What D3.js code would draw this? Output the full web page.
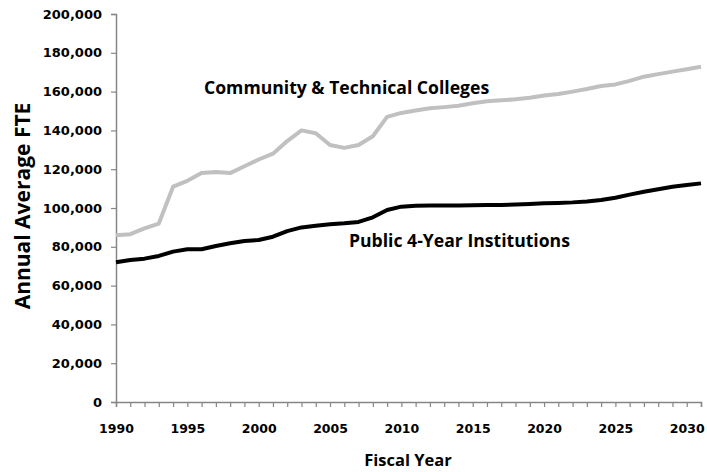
<!DOCTYPE html>
<html>
<head>
<meta charset="utf-8">
<script src="https://cdn.jsdelivr.net/npm/d3@7"></script>
<style>
  body { margin: 0; background: #fff; }
  text { font-family: "Open Sans", sans-serif; font-weight: bold; }
</style>
</head>
<body>
<svg id="chart" width="707" height="472"></svg>
<script>
// fiscal years 1990..2031
const years = d3.range(1990, 2032)

const ctcValues = [
  86000, 86500, 89500, 92000, 111000, 114000, 118000, 118500, 118000, 121500,
  125000, 128000, 134500, 140000, 138500, 132500, 131000, 132500, 137000, 147000,
  149000, 150300, 151400, 152000, 152700, 154000, 155000, 155500, 156000, 156800,
  158000, 158800, 160000, 161300, 162900, 163700, 165500, 167700, 169000, 170300,
  171500, 172800
]

const publicValues = [
  72000, 73200, 73900, 75300, 77500, 78700, 78700, 80400, 81800, 83000,
  83500, 85200, 88100, 90000, 90900, 91600, 92100, 92800, 95200, 99000,
  100700, 101200, 101300, 101300, 101300, 101400, 101500, 101600, 101800, 102100,
  102400, 102600, 102900, 103400, 104100, 105300, 106900, 108400, 109700, 111000,
  111800, 112700
]

const yTicks = [0, 20000, 40000, 60000, 80000, 100000, 120000, 140000, 160000, 180000, 200000]
const xLabelYears = [1990, 1995, 2000, 2005, 2010, 2015, 2020, 2025, 2030]

const margin = { top: 14, right: 6, bottom: 70, left: 116 }
const width = 707 - margin.left - margin.right
const height = 472 - margin.top - margin.bottom

const svg = d3.select("#chart")
const g = svg.append("g")
    .attr("transform", "translate(" + margin.left + "," + margin.top + ")")

const x = d3.scaleLinear()
    .domain([1990, 2031])
    .range([0, width])

const y = d3.scaleLinear()
    .domain([0, 200000])
    .range([height, 0])

// y axis
const yAxis = g.append("g")
    .call(d3.axisLeft(y).tickValues(yTicks).tickSize(5).tickPadding(9)
        .tickFormat(d3.format(",")))
yAxis.selectAll("text").attr("font-size", 13).attr("fill", "#000")
    .style("font-family", "'DejaVu Sans', sans-serif")

// x axis: a tick every year, labels every 5
const xAxis = g.append("g")
    .attr("transform", "translate(0," + height + ")")
    .call(d3.axisBottom(x).tickValues(years).tickSize(5).tickPadding(17)
        .tickFormat(d => xLabelYears.includes(d) ? d : ""))
xAxis.selectAll("text").attr("font-size", 12.5).attr("fill", "#000")
    .style("font-family", "'DejaVu Sans', sans-serif")

svg.selectAll(".domain").attr("stroke", "#868686").attr("stroke-width", 1.5)
svg.selectAll(".tick line").attr("stroke", "#868686").attr("stroke-width", 1.2)

const line = d3.line()
    .x((d, i) => x(years[i]))
    .y(d => y(d))

g.append("path")
    .datum(ctcValues)
    .attr("fill", "none")
    .attr("stroke", "#c0c0c0")
    .attr("stroke-width", 4)
    .attr("stroke-linejoin", "round")
    .attr("d", line)

g.append("path")
    .datum(publicValues)
    .attr("fill", "none")
    .attr("stroke", "#000")
    .attr("stroke-width", 4)
    .attr("stroke-linejoin", "round")
    .attr("d", line)

// series labels
svg.append("text")
    .attr("x", 204).attr("y", 94)
    .attr("font-size", 17.6)
    .text("Community & Technical Colleges")

svg.append("text")
    .attr("x", 349).attr("y", 247)
    .attr("font-size", 17.6)
    .text("Public 4-Year Institutions")

// axis titles
svg.append("text")
    .attr("transform", "translate(30,206) rotate(-90)")
    .attr("text-anchor", "middle")
    .attr("font-size", 21)
    .text("Annual Average FTE")

svg.append("text")
    .attr("x", 408).attr("y", 466)
    .attr("text-anchor", "middle")
    .attr("font-size", 16.5)
    .text("Fiscal Year")
</script>
</body>
</html>
